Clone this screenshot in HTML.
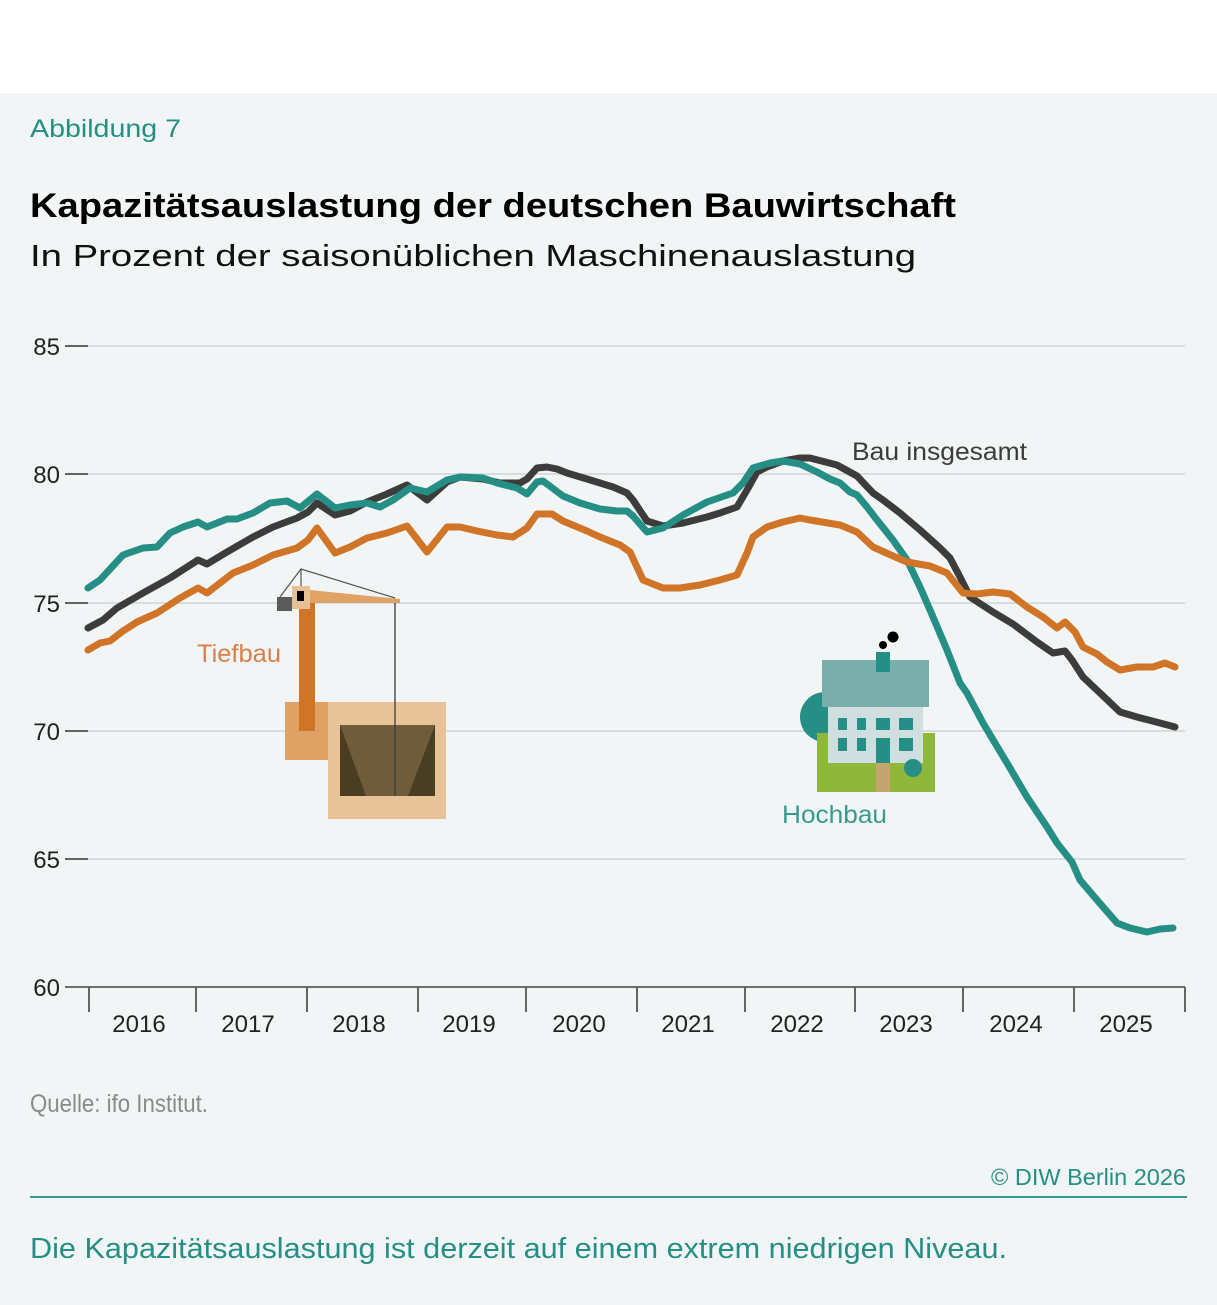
<!DOCTYPE html>
<html><head><meta charset="utf-8"><style>
html,body{margin:0;padding:0;background:#fff;}
svg{display:block;}
</style></head><body>
<svg width="1217" height="1305" viewBox="0 0 1217 1305" xmlns="http://www.w3.org/2000/svg" font-family="Liberation Sans, sans-serif">
<rect x="0" y="0" width="1217" height="93" fill="#ffffff"/>
<rect x="0" y="93" width="1217" height="1212" fill="#f1f5f5"/>

<text x="30" y="137" font-size="25" fill="#268f85" textLength="151" lengthAdjust="spacingAndGlyphs">Abbildung 7</text>
<text x="30" y="217" font-size="34" font-weight="bold" fill="#000" textLength="926" lengthAdjust="spacingAndGlyphs">Kapazitätsauslastung der deutschen Bauwirtschaft</text>
<text x="30" y="266" font-size="31" fill="#111" textLength="886" lengthAdjust="spacingAndGlyphs">In Prozent der saisonüblichen Maschinenauslastung</text>

<!-- grid -->
<g stroke="#d0d4d5" stroke-width="1.5">
<line x1="88" y1="346" x2="1185" y2="346"/>
<line x1="88" y1="474" x2="1185" y2="474"/>
<line x1="88" y1="603" x2="1185" y2="603"/>
<line x1="88" y1="731" x2="1185" y2="731"/>
<line x1="88" y1="859" x2="1185" y2="859"/>
</g>
<g stroke="#333" stroke-width="1.5">
<line x1="65" y1="346" x2="88" y2="346"/>
<line x1="65" y1="474" x2="88" y2="474"/>
<line x1="65" y1="603" x2="88" y2="603"/>
<line x1="65" y1="731" x2="88" y2="731"/>
<line x1="65" y1="859" x2="88" y2="859"/>
</g>
<line x1="65" y1="987" x2="1185" y2="987" stroke="#6e6e6e" stroke-width="2"/>
<g stroke="#555" stroke-width="1.8">
<line x1="89" y1="987" x2="89" y2="1012"/>
<line x1="196" y1="987" x2="196" y2="1012"/>
<line x1="307" y1="987" x2="307" y2="1012"/>
<line x1="418" y1="987" x2="418" y2="1012"/>
<line x1="526" y1="987" x2="526" y2="1012"/>
<line x1="637" y1="987" x2="637" y2="1012"/>
<line x1="745" y1="987" x2="745" y2="1012"/>
<line x1="855" y1="987" x2="855" y2="1012"/>
<line x1="963" y1="987" x2="963" y2="1012"/>
<line x1="1074" y1="987" x2="1074" y2="1012"/>
<line x1="1185" y1="987" x2="1185" y2="1012"/>
</g>
<g font-size="24" fill="#222" text-anchor="end">
<text x="60" y="355">85</text>
<text x="60" y="483">80</text>
<text x="60" y="612">75</text>
<text x="60" y="740">70</text>
<text x="60" y="868">65</text>
<text x="60" y="996">60</text>
</g>
<g font-size="24" fill="#222" text-anchor="middle">
<text x="139" y="1032">2016</text>
<text x="248" y="1032">2017</text>
<text x="359" y="1032">2018</text>
<text x="469" y="1032">2019</text>
<text x="579" y="1032">2020</text>
<text x="688" y="1032">2021</text>
<text x="797" y="1032">2022</text>
<text x="906" y="1032">2023</text>
<text x="1016" y="1032">2024</text>
<text x="1126" y="1032">2025</text>
</g>

<!-- crane illustration -->
<g>
<rect x="285" y="702" width="43" height="58" fill="#dea264"/>
<rect x="328" y="702" width="118" height="117" fill="#e8c397"/>
<rect x="340" y="725" width="95" height="71" fill="#4a3e22"/>
<polygon points="340,725 435,725 408,796 366,796" fill="#6e5c3b"/>
<line x1="395" y1="599" x2="395" y2="796" stroke="#3a3a3a" stroke-width="1.3"/>
<rect x="299" y="603" width="16" height="128" fill="#d07428"/>
<polygon points="310,590 400,599 400,603 310,603" fill="#e0a265"/>
<rect x="277" y="597" width="15" height="14" fill="#5a5a5a"/>
<rect x="292" y="586" width="18" height="23" fill="#e8c095"/>
<rect x="297" y="591" width="7" height="10" fill="#000"/>
<polyline points="280,597 301,569 395,598" fill="none" stroke="#555" stroke-width="1.2"/>
<line x1="301" y1="569" x2="301" y2="586" stroke="#555" stroke-width="1.2"/>
</g>

<!-- house illustration -->
<g>
<circle cx="825" cy="717" r="25" fill="#268f85"/>
<rect x="817" y="733" width="118" height="59" fill="#8fb83a"/>
<rect x="828" y="707" width="95" height="56" fill="#cfdfdf"/>
<rect x="822" y="660" width="107" height="47" fill="#7aaeaa"/>
<rect x="876" y="652" width="14" height="20" fill="#268f85"/>
<circle cx="883" cy="645" r="4" fill="#000"/>
<circle cx="893" cy="637" r="5.5" fill="#000"/>
<g fill="#268f85">
<rect x="838" y="718" width="9" height="12"/>
<rect x="857" y="718" width="9" height="12"/>
<rect x="876" y="718" width="14" height="12"/>
<rect x="899" y="718" width="14" height="12"/>
<rect x="838" y="738" width="9" height="13"/>
<rect x="857" y="738" width="9" height="13"/>
<rect x="876" y="738" width="14" height="25"/>
<rect x="899" y="738" width="14" height="13"/>
</g>
<rect x="876" y="763" width="14" height="29" fill="#c4a570"/>
<circle cx="913" cy="768" r="9" fill="#268f85"/>
</g>

<!-- series -->
<g fill="none" stroke-width="7" stroke-linejoin="round" stroke-linecap="round">
<polyline stroke="#3c3c3a" points="88,628 103,620 117,608 143,593 170,578 198,560 207,564 227,552 253,537 273,527 297,518 308,512 317,503 335,515 350,511 367,502 387,494 407,485 427,500 447,482 460,477 483,479 500,483 520,483 527,479 537,468 547,467 557,469 567,473 587,479 600,483 613,487 627,493 633,500 647,521 663,526 683,523 707,517 720,513 737,507 747,490 757,472 767,467 783,461 800,458 810,458 837,465 857,476 873,493 883,500 900,513 920,530 940,548 950,558 960,577 970,597 993,612 1013,624 1037,642 1053,653 1065,651 1072,660 1083,677 1100,693 1120,712 1137,717 1160,723 1175,727"/>
<polyline stroke="#268f85" points="88,588 100,580 123,555 143,548 157,547 170,533 183,527 198,522 207,527 217,523 227,519 237,519 253,513 270,503 287,501 300,508 317,494 335,508 350,505 367,503 380,507 393,500 410,488 427,492 447,480 460,477 483,478 497,483 517,488 527,494 537,482 543,481 563,496 580,503 600,509 617,511 627,511 633,516 647,532 663,528 683,515 707,502 733,493 743,483 753,468 770,463 783,461 800,464 817,472 830,479 840,483 850,492 857,495 867,507 877,520 893,540 907,560 920,587 933,617 947,650 960,683 967,693 983,723 1007,763 1027,797 1047,827 1057,843 1072,862 1080,880 1097,900 1117,923 1130,928 1147,932 1160,929 1173,928"/>
<polyline stroke="#d07428" points="88,650 100,643 110,641 123,631 137,622 157,613 180,598 198,588 207,593 233,573 253,565 273,555 297,548 308,540 317,528 335,553 350,547 367,538 387,533 407,526 427,552 447,527 460,527 477,531 497,535 513,537 527,528 537,514 552,514 563,521 587,531 600,537 620,545 630,552 643,580 663,588 680,588 700,585 720,580 737,575 747,553 753,537 767,527 783,522 800,518 810,520 840,525 857,532 873,547 893,556 907,562 930,566 947,573 963,593 977,594 993,592 1010,594 1027,607 1043,617 1057,628 1065,622 1075,632 1083,647 1097,654 1107,662 1120,670 1137,667 1153,667 1165,663 1175,667"/>
</g>

<text x="852" y="460" font-size="25" fill="#3c3c3a" textLength="175" lengthAdjust="spacingAndGlyphs">Bau insgesamt</text>
<text x="197" y="662" font-size="25" fill="#d9804a" textLength="84" lengthAdjust="spacingAndGlyphs">Tiefbau</text>
<text x="782" y="823" font-size="25" fill="#3a9a90" textLength="105" lengthAdjust="spacingAndGlyphs">Hochbau</text>

<text x="30" y="1112" font-size="25" fill="#8a8a8a" textLength="178" lengthAdjust="spacingAndGlyphs">Quelle: ifo Institut.</text>
<text x="991" y="1185" font-size="23" fill="#268f85" textLength="195" lengthAdjust="spacingAndGlyphs">© DIW Berlin 2026</text>
<line x1="30" y1="1197" x2="1187" y2="1197" stroke="#3a9a90" stroke-width="2"/>
<text x="30" y="1258" font-size="29" fill="#268f85" textLength="977" lengthAdjust="spacingAndGlyphs">Die Kapazitätsauslastung ist derzeit auf einem extrem niedrigen Niveau.</text>
</svg>
</body></html>
